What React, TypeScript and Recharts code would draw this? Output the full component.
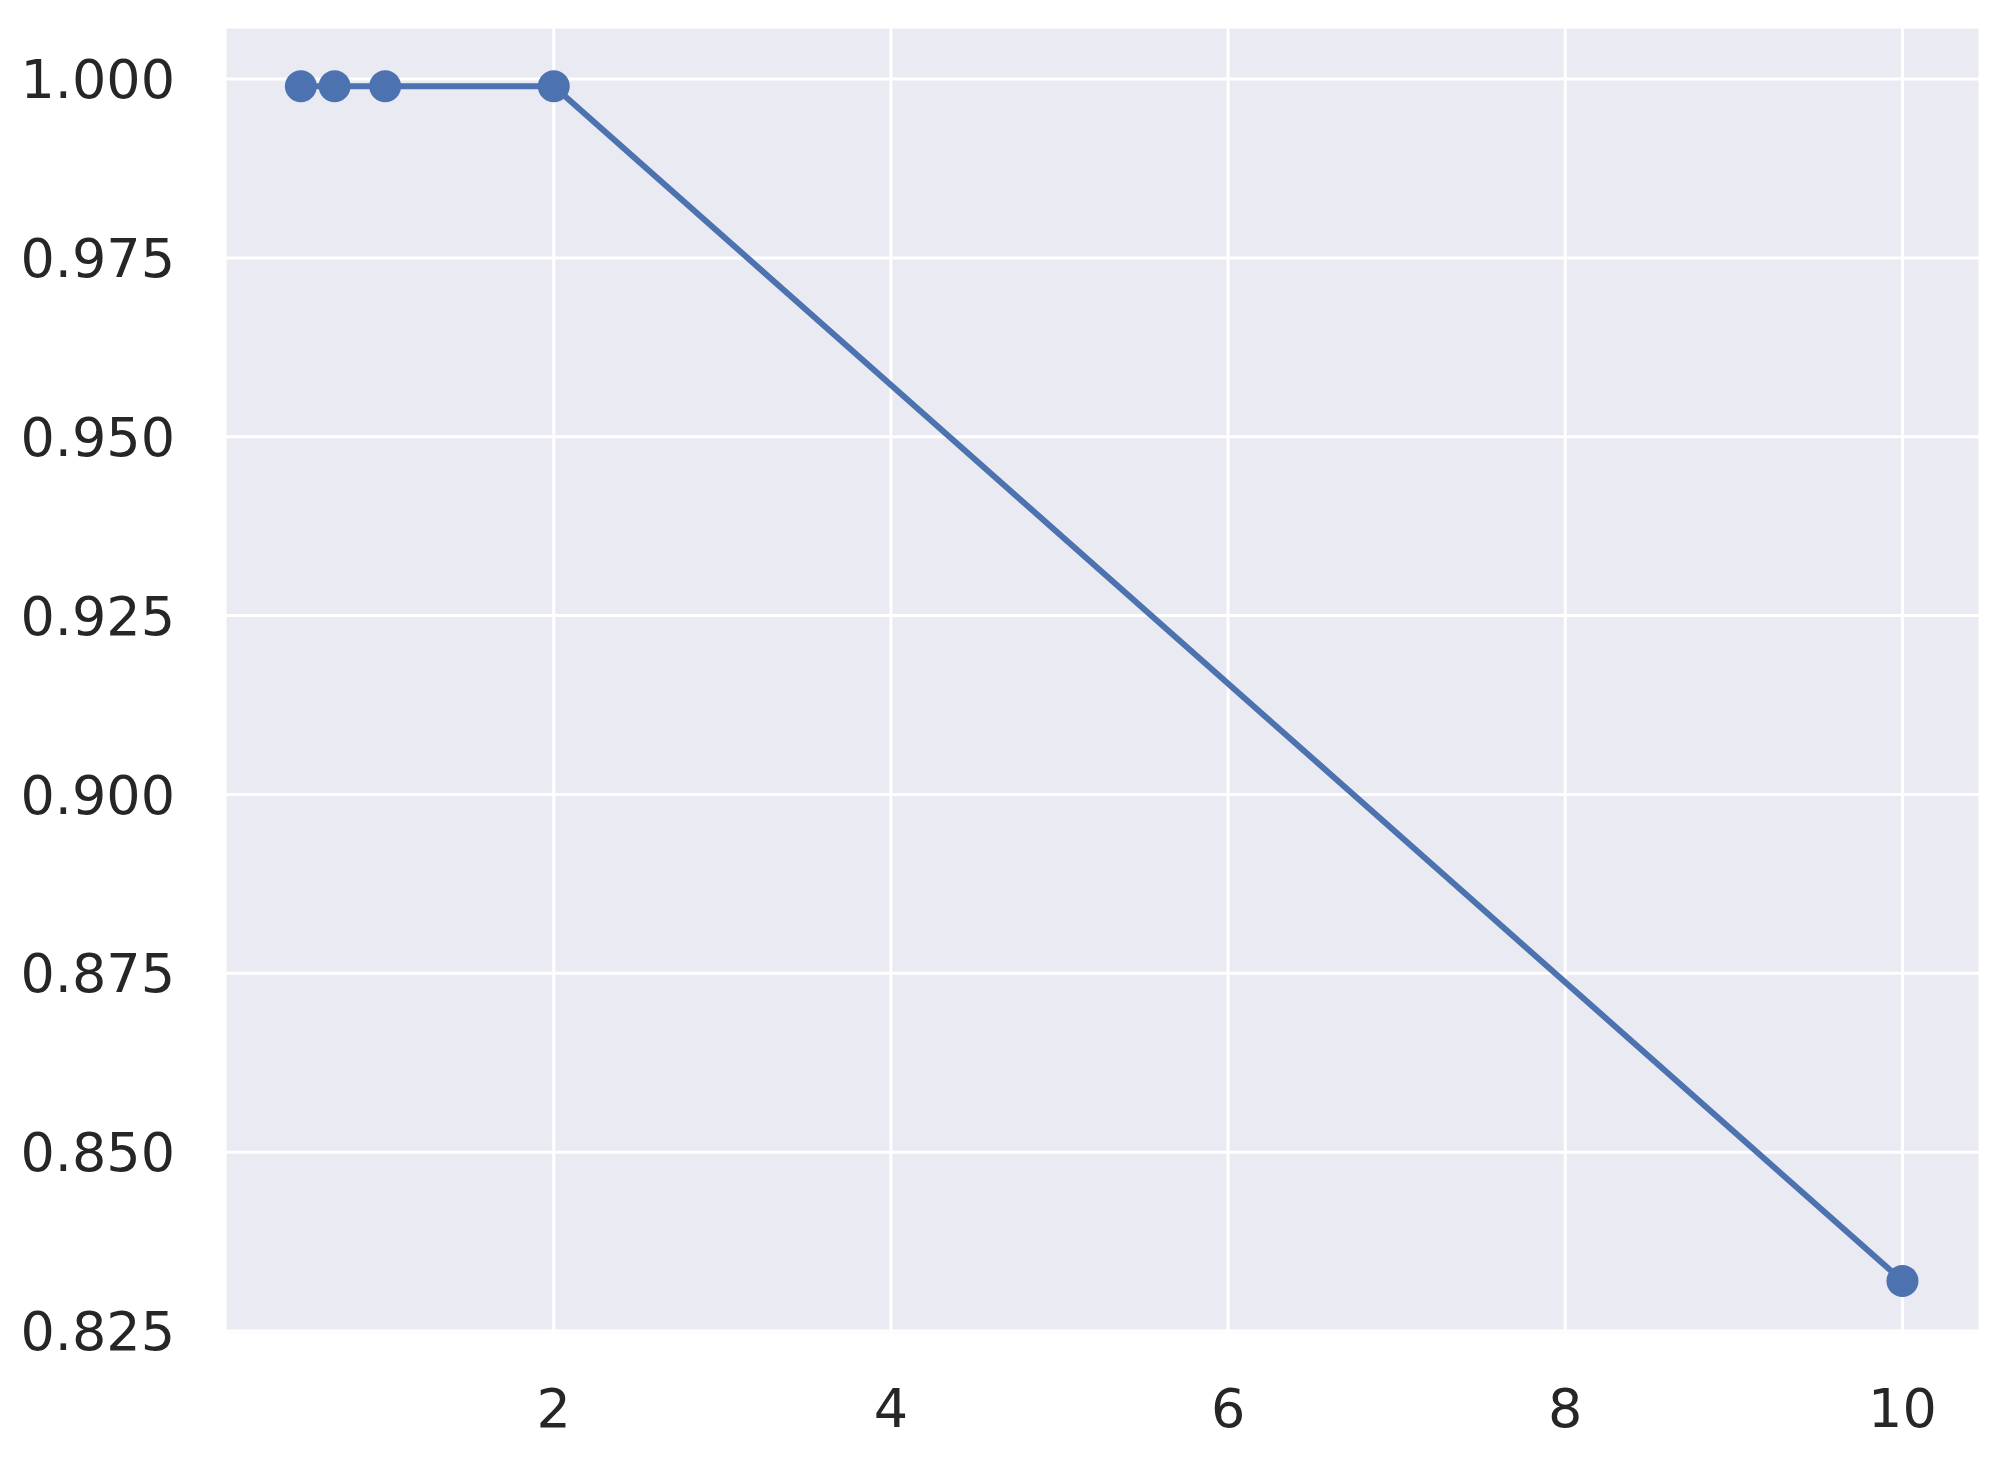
import { LineChart, Line, XAxis, YAxis, CartesianGrid } from "recharts";

const xValues = [0.5, 0.7, 1, 2, 10];
const scores = [0.999, 0.999, 0.999, 0.999, 0.832];
const xTicks = [2, 4, 6, 8, 10];
const yTicks = [0.825, 0.85, 0.875, 0.9, 0.925, 0.95, 0.975, 1.0];

const data = xValues.map((x, i) => ({ x, score: scores[i] }));

const tickStyle = { fontSize: 54, fill: "#262626", fontFamily: "DejaVu Sans" };

export default function App() {
  return (
    <div style={{ position: "absolute", left: 0, top: 0, background: "#fff" }}>
      <LineChart width={2010} height={1460} data={data} margin={{ top: 27, right: 30, bottom: 0, left: 0 }}>
        <CartesianGrid fill="#eaeaf2" stroke="#ffffff" strokeWidth={3} />
        <XAxis
          dataKey="x"
          type="number"
          domain={[0.05, 10.46]}
          ticks={xTicks}
          allowDataOverflow
          axisLine={false}
          tickLine={false}
          tickSize={0}
          tickMargin={55}
          height={126}
          tick={tickStyle}
        />
        <YAxis
          type="number"
          domain={[0.82458, 1.00728]}
          ticks={yTicks}
          allowDataOverflow
          tickFormatter={(v: number) => v.toFixed(3)}
          axisLine={false}
          tickLine={false}
          tickSize={0}
          tickMargin={50}
          width={225}
          tick={tickStyle}
        />
        <Line
          type="linear"
          dataKey="score"
          stroke="#4c72b0"
          strokeWidth={6}
          dot={{ r: 16, fill: "#4c72b0", stroke: "none" }}
          activeDot={false}
          isAnimationActive={false}
        />
      </LineChart>
    </div>
  );
}
